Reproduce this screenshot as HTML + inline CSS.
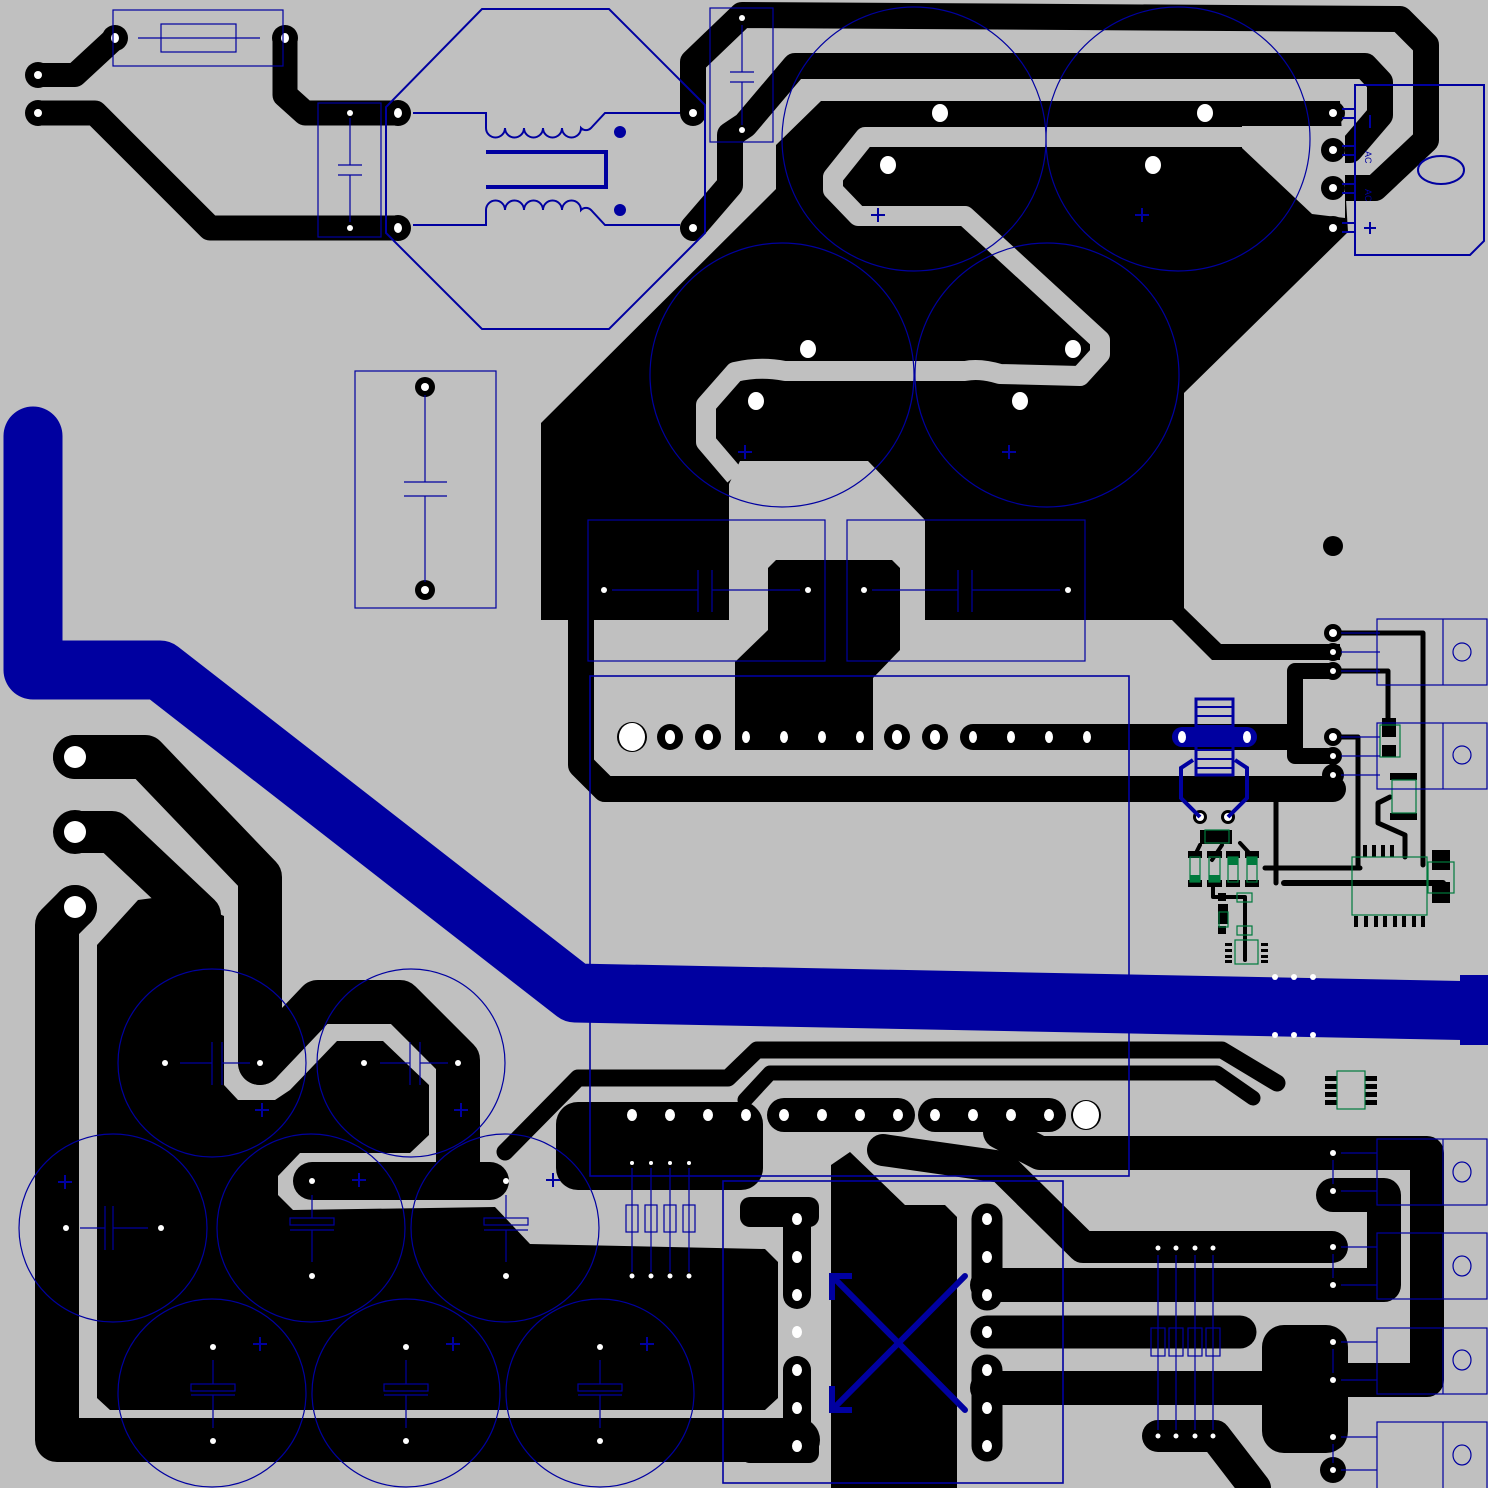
<!DOCTYPE html>
<html><head><meta charset="utf-8"><style>html,body{margin:0;padding:0;background:#c0c0c0}svg{display:block}</style></head>
<body>
<svg width="1488" height="1488" viewBox="0 0 1488 1488" xmlns="http://www.w3.org/2000/svg">
<rect width="1488" height="1488" fill="#c0c0c0"/>
<g fill="none" stroke="#000" stroke-linecap="round" stroke-linejoin="round">
<!-- top-left -->
<path d="M38,75 L75,75 L115,38" stroke-width="24"/>
<path d="M38,113 L95,113 L210,228 L398,228" stroke-width="25"/>
<path d="M285,38 L285,95 L305,113 L398,113" stroke-width="25"/>
<!-- top bands -->
<path d="M693,113 L693,62 L742,15 L1400,19 L1426,45 L1426,140 L1375,188 L1333,188" stroke-width="26"/>
<path d="M693,228 L730,185 L730,135 L745,125 L795,66 L1365,66 L1380,82 L1380,115 L1350,150 L1333,150" stroke-width="26"/>
</g>
<!-- main polygon -->
<polygon points="541,423 776,189 776,145 821,101 1340,101 1348,232 1184,393 1184,608 1221,644 1340,644 1340,660 1212,660 1172,620 541,620" fill="#000"/>
<g fill="none" stroke="#c0c0c0" stroke-linejoin="round">
<path d="M1345,137 L865,137 L833,177 L833,190 L858,216 L965,216 L1100,340 L1100,354 L1080,376 L1000,374 Q980,368 965,371 L785,371 Q760,366 735,372 L706,405 L706,442 L735,476" stroke-width="20"/>
</g>
<polygon points="1242,126 1345,126 1345,218 1312,214 1242,148" fill="#c0c0c0"/>
<polygon points="729,484 740,461 868,461 925,520 925,625 729,625" fill="#c0c0c0"/>
<!-- re-draw black traces inside -->
<g fill="none" stroke="#000" stroke-linecap="round" stroke-linejoin="round">
<path d="M581,610 L581,765 L605,789 L1333,789" stroke-width="26"/>
<path d="M973,737 L1290,737" stroke-width="26"/>
<path d="M1333,671 L1295,671 L1295,756 L1333,756" stroke-width="16"/>
<path d="M1333,633 L1423,633 L1423,865" stroke-width="5"/>
<path d="M1333,671 L1388,671 L1388,720" stroke-width="5"/>
<path d="M1333,737 L1358,737 L1358,867" stroke-width="5"/>
<path d="M1390,797 L1378,803 L1378,823 L1405,835 L1405,857" stroke-width="5"/>
<path d="M1265,868 L1360,868" stroke-width="5"/>
<path d="M1284,883 L1443,883" stroke-width="6"/>
<path d="M1276,802 L1276,883" stroke-width="5"/>
<path d="M1213,887 L1213,897 L1245,897 L1245,960" stroke-width="4"/>
<path d="M1222,845 L1212,860 M1240,843 L1252,856 M1200,845 L1195,855" stroke-width="4"/>
</g>
<polygon points="776,560 892,560 900,568 900,650 873,678 873,750 735,750 735,662 768,630 768,568" fill="#000"/>
<!-- pad row 737 pads -->
<g fill="#000"><circle cx="632" cy="737" r="15"/><circle cx="670" cy="737" r="13"/><circle cx="708" cy="737" r="13"/><circle cx="897" cy="737" r="13"/><circle cx="935" cy="737" r="13"/><circle cx="1333" cy="546" r="10"/></g>
<!-- blue wide trace -->
<path d="M33,436 L33,670 L160,670 L575,993 L1488,1011" fill="none" stroke="#0000a0" stroke-width="59" stroke-linejoin="round" stroke-linecap="round"/>
<rect x="1460" y="975" width="30" height="70" fill="#0000a0"/>
<!-- bottom-left -->
<polygon points="97,945 138,900 175,895 224,916 224,1085 238,1100 275,1100 290,1090 337,1041 383,1041 429,1085 429,1135 410,1153 300,1153 278,1176 278,1195 293,1210 495,1207 530,1244 765,1249 778,1262 778,1398 765,1410 110,1410 97,1398" fill="#000"/>
<g fill="none" stroke="#000" stroke-linecap="round" stroke-linejoin="round">
<path d="M75,757 L145,757 L260,877 L260,1063" stroke-width="44"/>
<path d="M75,832 L112,832 L200,915" stroke-width="42"/>
<path d="M75,907 L57,925 L57,1440 L798,1440" stroke-width="44"/>
<path d="M260,1063 L318,1002 L400,1002 L458,1060 L458,1165" stroke-width="44"/>
<path d="M312,1181 L490,1181" stroke-width="38"/>
<path d="M505,1152 L578,1078 L728,1078 L757,1050 L1222,1050 L1277,1083" stroke-width="17"/>
<path d="M745,1100 L770,1073 L1217,1073 L1253,1098" stroke-width="15"/>
<path d="M784,1115 L898,1115 M935,1115 L1049,1115" stroke-width="34"/>
<path d="M883,1150 L1002,1167 L1083,1247 L1332,1247" stroke-width="32"/>
<path d="M1000,1132 L1040,1153 L1427,1153 L1427,1380 L1333,1380" stroke-width="34"/>
<path d="M987,1285 L1384,1285 L1384,1195 L1333,1195" stroke-width="34"/>
<path d="M987,1332 L1240,1332" stroke-width="33"/>
<path d="M987,1388 L1280,1388" stroke-width="34"/>
<path d="M1158,1436 L1215,1436 L1255,1488" stroke-width="32"/>
<path d="M797,1219 L797,1295 M797,1370 L797,1446" stroke-width="28"/>
<path d="M987,1219 L987,1295 M987,1370 L987,1446" stroke-width="31"/>
</g>
<rect x="556" y="1102" width="207" height="88" rx="22" fill="#000"/>
<rect x="740" y="1197" width="79" height="30" rx="10" fill="#000"/>
<rect x="740" y="1432" width="79" height="31" rx="10" fill="#000"/>
<rect x="1262" y="1325" width="86" height="128" rx="22" fill="#000"/>
<polygon points="831,1165 850,1152 905,1205 945,1205 957,1217 957,1488 831,1488" fill="#000"/>
<g fill="#000"><circle cx="1333" cy="1342" r="13"/><circle cx="1333" cy="1437" r="13"/><circle cx="1333" cy="1470" r="13"/><circle cx="1333" cy="1191" r="13"/><circle cx="1333" cy="1153" r="13"/><circle cx="1333" cy="1247" r="13"/><circle cx="1333" cy="1285" r="13"/><circle cx="1086" cy="1115" r="15"/><circle cx="746" cy="1115" r="12"/></g>
<!-- top pads black rings -->
<g fill="#000">
<circle cx="115" cy="38" r="13"/><circle cx="285" cy="38" r="13"/><circle cx="38" cy="75" r="13"/><circle cx="38" cy="113" r="13"/><circle cx="398" cy="113" r="13"/><circle cx="398" cy="228" r="13"/><circle cx="693" cy="113" r="12"/><circle cx="693" cy="228" r="12"/><circle cx="1333" cy="113" r="12"/><circle cx="1333" cy="150" r="12"/><circle cx="1333" cy="188" r="12"/><circle cx="1333" cy="228" r="12"/>
<circle cx="425" cy="387" r="10"/><circle cx="425" cy="590" r="10"/>
<circle cx="75" cy="757" r="22"/><circle cx="75" cy="832" r="22"/><circle cx="75" cy="907" r="22"/>
<circle cx="1333" cy="633" r="9"/><circle cx="1333" cy="652" r="9"/><circle cx="1333" cy="671" r="9"/><circle cx="1333" cy="737" r="9"/><circle cx="1333" cy="756" r="9"/><circle cx="1333" cy="775" r="11"/>
<circle cx="1200" cy="817" r="7"/><circle cx="1228" cy="817" r="7"/>
</g>
<!-- small SMD parts -->
<g fill="#000">
<rect x="1382" y="718" width="14" height="19"/><rect x="1382" y="745" width="14" height="12"/>
<rect x="1390" y="773" width="27" height="7"/><rect x="1390" y="813" width="27" height="7"/>
<rect x="1432" y="850" width="18" height="20"/><rect x="1432" y="882" width="18" height="21"/>
<rect x="1200" y="830" width="32" height="14"/>
<rect x="1188" y="851" width="14" height="7"/><rect x="1207" y="851" width="15" height="7"/><rect x="1226" y="851" width="14" height="7"/><rect x="1245" y="851" width="14" height="7"/>
<rect x="1188" y="880" width="14" height="7"/><rect x="1207" y="880" width="15" height="7"/><rect x="1226" y="880" width="14" height="7"/><rect x="1245" y="880" width="14" height="7"/>
<rect x="1218" y="893" width="8" height="8"/><rect x="1218" y="926" width="8" height="8"/><rect x="1218" y="904" width="10" height="20"/>
<rect x="1225" y="943" width="7" height="3"/><rect x="1225" y="949" width="7" height="3"/><rect x="1225" y="955" width="7" height="3"/><rect x="1225" y="960" width="7" height="3"/>
<rect x="1261" y="943" width="7" height="3"/><rect x="1261" y="949" width="7" height="3"/><rect x="1261" y="955" width="7" height="3"/><rect x="1261" y="960" width="7" height="3"/>
<rect x="1325" y="1076" width="12" height="5"/><rect x="1325" y="1084" width="12" height="5"/><rect x="1325" y="1092" width="12" height="5"/><rect x="1325" y="1100" width="12" height="5"/>
<rect x="1365" y="1076" width="12" height="5"/><rect x="1365" y="1084" width="12" height="5"/><rect x="1365" y="1092" width="12" height="5"/><rect x="1365" y="1100" width="12" height="5"/>
</g>
<g fill="#000">
<rect x="1363" y="845" width="4" height="12"/><rect x="1372" y="845" width="4" height="12"/><rect x="1381" y="845" width="4" height="12"/><rect x="1390" y="845" width="4" height="12"/>
<rect x="1354" y="916" width="4" height="11"/><rect x="1364" y="916" width="4" height="11"/><rect x="1374" y="916" width="4" height="11"/><rect x="1383" y="916" width="4" height="11"/><rect x="1393" y="916" width="4" height="11"/><rect x="1402" y="916" width="4" height="11"/><rect x="1412" y="916" width="4" height="11"/><rect x="1421" y="916" width="4" height="11"/>
</g>
<g fill="#007a3d"><rect x="1190" y="875" width="10" height="7"/><rect x="1209" y="875" width="11" height="7"/><rect x="1228" y="857" width="10" height="8"/><rect x="1247" y="857" width="10" height="8"/></g>
<g fill="none" stroke="#007a3d" stroke-width="1.2">
<rect x="1205" y="830" width="24" height="13"/><rect x="1190" y="857" width="10" height="25"/><rect x="1209" y="857" width="11" height="25"/><rect x="1228" y="857" width="10" height="25"/><rect x="1247" y="857" width="10" height="25"/>
<rect x="1237" y="893" width="15" height="9"/><rect x="1219" y="912" width="9" height="15"/><rect x="1237" y="926" width="15" height="9"/>
<rect x="1235" y="940" width="23" height="24"/><rect x="1352" y="857" width="75" height="58"/><rect x="1428" y="862" width="26" height="31"/>
<rect x="1392" y="780" width="24" height="33"/><rect x="1380" y="725" width="20" height="32"/><rect x="1337" y="1071" width="28" height="38"/>
</g>
<!-- white drill holes -->
<g fill="#fff">
<ellipse cx="115" cy="38" rx="4" ry="5"/><ellipse cx="285" cy="38" rx="4" ry="5"/><circle cx="38" cy="75" r="4"/><circle cx="38" cy="113" r="4"/><circle cx="350" cy="113" r="3"/><circle cx="350" cy="228" r="3"/><ellipse cx="398" cy="113" rx="4" ry="5"/><ellipse cx="398" cy="228" rx="4" ry="5"/>
<circle cx="693" cy="113" r="4"/><circle cx="693" cy="228" r="4"/><circle cx="742" cy="18" r="3"/><circle cx="742" cy="130" r="3"/>
<ellipse cx="940" cy="113" rx="8" ry="9"/><ellipse cx="1205" cy="113" rx="8" ry="9"/><ellipse cx="888" cy="165" rx="8" ry="9"/><ellipse cx="1153" cy="165" rx="8" ry="9"/>
<ellipse cx="808" cy="349" rx="8" ry="9"/><ellipse cx="1073" cy="349" rx="8" ry="9"/><ellipse cx="756" cy="401" rx="8" ry="9"/><ellipse cx="1020" cy="401" rx="8" ry="9"/>
<circle cx="1333" cy="113" r="4"/><circle cx="1333" cy="150" r="4"/><circle cx="1333" cy="188" r="4"/><circle cx="1333" cy="228" r="4"/>
<circle cx="425" cy="387" r="4"/><circle cx="425" cy="590" r="4"/>
<circle cx="604" cy="590" r="3"/><circle cx="808" cy="590" r="3"/><circle cx="864" cy="590" r="3"/><circle cx="1068" cy="590" r="3"/>
<ellipse cx="632" cy="737" rx="13" ry="14"/><ellipse cx="670" cy="737" rx="5" ry="7"/><ellipse cx="708" cy="737" rx="5" ry="7"/>
<ellipse cx="746" cy="737" rx="4" ry="6"/><ellipse cx="784" cy="737" rx="4" ry="6"/><ellipse cx="822" cy="737" rx="4" ry="6"/><ellipse cx="860" cy="737" rx="4" ry="6"/>
<ellipse cx="897" cy="737" rx="5" ry="7"/><ellipse cx="935" cy="737" rx="5" ry="7"/>
<ellipse cx="973" cy="737" rx="4" ry="6"/><ellipse cx="1011" cy="737" rx="4" ry="6"/><ellipse cx="1049" cy="737" rx="4" ry="6"/><ellipse cx="1087" cy="737" rx="4" ry="6"/>
<circle cx="1333" cy="633" r="4"/><circle cx="1333" cy="652" r="3"/><circle cx="1333" cy="671" r="3"/><circle cx="1333" cy="737" r="4"/><circle cx="1333" cy="756" r="3"/><circle cx="1333" cy="775" r="3"/>
<circle cx="75" cy="757" r="11"/><circle cx="75" cy="832" r="11"/><circle cx="75" cy="907" r="11"/>
<circle cx="165" cy="1063" r="3"/><circle cx="260" cy="1063" r="3"/><circle cx="364" cy="1063" r="3"/><circle cx="458" cy="1063" r="3"/>
<circle cx="66" cy="1228" r="3"/><circle cx="161" cy="1228" r="3"/><circle cx="312" cy="1181" r="3"/><circle cx="312" cy="1276" r="3"/><circle cx="506" cy="1181" r="3"/><circle cx="506" cy="1276" r="3"/>
<circle cx="213" cy="1347" r="3"/><circle cx="213" cy="1441" r="3"/><circle cx="406" cy="1347" r="3"/><circle cx="406" cy="1441" r="3"/><circle cx="600" cy="1347" r="3"/><circle cx="600" cy="1441" r="3"/>
<ellipse cx="632" cy="1115" rx="5" ry="6"/><ellipse cx="670" cy="1115" rx="5" ry="6"/><ellipse cx="708" cy="1115" rx="5" ry="6"/><ellipse cx="746" cy="1115" rx="5" ry="6"/>
<ellipse cx="784" cy="1115" rx="5" ry="6"/><ellipse cx="822" cy="1115" rx="5" ry="6"/><ellipse cx="860" cy="1115" rx="5" ry="6"/><ellipse cx="898" cy="1115" rx="5" ry="6"/>
<ellipse cx="935" cy="1115" rx="5" ry="6"/><ellipse cx="973" cy="1115" rx="5" ry="6"/><ellipse cx="1011" cy="1115" rx="5" ry="6"/><ellipse cx="1049" cy="1115" rx="5" ry="6"/>
<ellipse cx="1086" cy="1115" rx="13" ry="14"/>
<circle cx="632" cy="1163" r="2"/><circle cx="651" cy="1163" r="2"/><circle cx="670" cy="1163" r="2"/><circle cx="689" cy="1163" r="2"/>
<circle cx="632" cy="1276" r="2.5"/><circle cx="651" cy="1276" r="2.5"/><circle cx="670" cy="1276" r="2.5"/><circle cx="689" cy="1276" r="2.5"/>
<ellipse cx="797" cy="1219" rx="5" ry="6"/><ellipse cx="797" cy="1257" rx="5" ry="6"/><ellipse cx="797" cy="1295" rx="5" ry="6"/><ellipse cx="797" cy="1332" rx="5" ry="6"/><ellipse cx="797" cy="1370" rx="5" ry="6"/><ellipse cx="797" cy="1408" rx="5" ry="6"/><ellipse cx="797" cy="1446" rx="5" ry="6"/>
<ellipse cx="987" cy="1219" rx="5" ry="6"/><ellipse cx="987" cy="1257" rx="5" ry="6"/><ellipse cx="987" cy="1295" rx="5" ry="6"/><ellipse cx="987" cy="1332" rx="5" ry="6"/><ellipse cx="987" cy="1370" rx="5" ry="6"/><ellipse cx="987" cy="1408" rx="5" ry="6"/><ellipse cx="987" cy="1446" rx="5" ry="6"/>
<circle cx="1158" cy="1248" r="2.5"/><circle cx="1176" cy="1248" r="2.5"/><circle cx="1195" cy="1248" r="2.5"/><circle cx="1213" cy="1248" r="2.5"/>
<circle cx="1158" cy="1436" r="2.5"/><circle cx="1176" cy="1436" r="2.5"/><circle cx="1195" cy="1436" r="2.5"/><circle cx="1213" cy="1436" r="2.5"/>
<circle cx="1333" cy="1153" r="3"/><circle cx="1333" cy="1191" r="3"/><circle cx="1333" cy="1247" r="3"/><circle cx="1333" cy="1285" r="3"/><circle cx="1333" cy="1342" r="3"/><circle cx="1333" cy="1380" r="3"/><circle cx="1333" cy="1437" r="3"/><circle cx="1333" cy="1470" r="3"/>
<circle cx="1200" cy="817" r="4"/><circle cx="1228" cy="817" r="4"/>
<circle cx="1275" cy="977" r="3"/><circle cx="1294" cy="977" r="3"/><circle cx="1313" cy="977" r="3"/><circle cx="1275" cy="1035" r="3"/><circle cx="1294" cy="1035" r="3"/><circle cx="1313" cy="1035" r="3"/>
</g>
<!-- blue outlines -->
<g fill="none" stroke="#0000a0" stroke-width="1.2">
<rect x="113" y="10" width="170" height="56"/><rect x="161" y="24" width="75" height="28"/><path d="M138,38 L260,38"/>
<rect x="318" y="103" width="63" height="134"/><path d="M350,118 L350,165 M338,165 L362,165 M338,175 L362,175 M350,175 L350,222"/>
<rect x="710" y="8" width="63" height="134"/><path d="M742,25 L742,72 M730,72 L754,72 M730,82 L754,82 M742,82 L742,125"/>
<circle cx="914" cy="139" r="132"/><circle cx="1178" cy="139" r="132"/><circle cx="782" cy="375" r="132"/><circle cx="1047" cy="375" r="132"/>
<rect x="355" y="371" width="141" height="237"/><path d="M425,395 L425,482 M404,482 L447,482 M404,496 L447,496 M425,496 L425,582"/>
<rect x="588" y="520" width="237" height="141"/><rect x="847" y="520" width="238" height="141"/>
<path d="M612,590 L698,590 M698,570 L698,612 M712,570 L712,612 M712,590 L800,590 M872,590 L958,590 M958,570 L958,612 M972,570 L972,612 M972,590 L1060,590"/>
<rect x="590" y="676" width="539" height="500" stroke-width="1.6"/>
<rect x="723" y="1181" width="340" height="302" stroke-width="1.6"/>
<circle cx="212" cy="1063" r="94"/><circle cx="411" cy="1063" r="94"/><circle cx="113" cy="1228" r="94"/><circle cx="311" cy="1228" r="94"/><circle cx="505" cy="1228" r="94"/><circle cx="212" cy="1393" r="94"/><circle cx="406" cy="1393" r="94"/><circle cx="600" cy="1393" r="94"/>
<path d="M180,1063 L212,1063 M212,1042 L212,1085 M222,1042 L222,1085 M222,1063 L250,1063"/>
<path d="M380,1063 L410,1063 M410,1042 L410,1085 M420,1042 L420,1085 M420,1063 L448,1063"/>
<path d="M80,1228 L105,1228 M105,1206 L105,1250 M113,1206 L113,1250 M113,1228 L148,1228"/>
<rect x="290" y="1218" width="44" height="7"/><path d="M312,1195 L312,1218 M290,1230 L334,1230 M312,1230 L312,1262"/>
<rect x="484" y="1218" width="44" height="7"/><path d="M506,1195 L506,1218 M484,1230 L528,1230 M506,1230 L506,1262"/>
<rect x="191" y="1384" width="44" height="7"/><path d="M213,1360 L213,1384 M191,1395 L235,1395 M213,1395 L213,1428"/>
<rect x="384" y="1384" width="44" height="7"/><path d="M406,1360 L406,1384 M384,1395 L428,1395 M406,1395 L406,1428"/>
<rect x="578" y="1384" width="44" height="7"/><path d="M600,1360 L600,1384 M578,1395 L622,1395 M600,1395 L600,1428"/>
<path d="M632,1168 L632,1272 M651,1168 L651,1272 M670,1168 L670,1272 M689,1168 L689,1272"/>
<rect x="626" y="1205" width="12" height="27"/><rect x="645" y="1205" width="12" height="27"/><rect x="664" y="1205" width="12" height="27"/><rect x="683" y="1205" width="12" height="27"/>
<path d="M1158,1255 L1158,1430 M1176,1255 L1176,1430 M1195,1255 L1195,1430 M1213,1255 L1213,1430"/>
<rect x="1151" y="1328" width="14" height="28"/><rect x="1169" y="1328" width="14" height="28"/><rect x="1188" y="1328" width="14" height="28"/><rect x="1206" y="1328" width="14" height="28"/>
<rect x="1377" y="1139" width="110" height="66"/><path d="M1443,1139 L1443,1205"/><ellipse cx="1462" cy="1172" rx="9" ry="10"/>
<rect x="1377" y="1233" width="110" height="66"/><path d="M1443,1233 L1443,1299"/><ellipse cx="1462" cy="1266" rx="9" ry="10"/>
<rect x="1377" y="1328" width="110" height="66"/><path d="M1443,1328 L1443,1394"/><ellipse cx="1462" cy="1360" rx="9" ry="10"/>
<rect x="1377" y="1422" width="110" height="70"/><path d="M1443,1422 L1443,1492"/><ellipse cx="1462" cy="1455" rx="9" ry="10"/>
<path d="M1341,1153 L1377,1153 M1341,1191 L1377,1191 M1341,1247 L1377,1247 M1341,1285 L1377,1285 M1341,1342 L1377,1342 M1341,1380 L1377,1380 M1341,1437 L1377,1437 M1341,1470 L1377,1470"/>
<path d="M1333,1160 L1333,1184 M1333,1254 L1333,1278 M1333,1349 L1333,1373 M1333,1444 L1333,1463"/>
<rect x="1377" y="619" width="110" height="66"/><path d="M1443,619 L1443,685"/><circle cx="1462" cy="652" r="9"/>
<rect x="1377" y="723" width="110" height="66"/><path d="M1443,723 L1443,789"/><circle cx="1462" cy="755" r="9"/>
<path d="M1341,633 L1380,633 M1341,652 L1380,652 M1341,671 L1380,671 M1341,737 L1380,737 M1341,756 L1380,756 M1341,775 L1380,775"/>
</g>
<g fill="none" stroke="#0000a0" stroke-width="2">
<polygon points="482,9 609,9 705,105 705,233 609,329 482,329 386,233 386,107"/>
<path d="M413,113 L486,113 L486,128 a9.5,9.5 0 0 0 19,0 a9.5,9.5 0 0 0 19,0 a9.5,9.5 0 0 0 19,0 a9.5,9.5 0 0 0 19,0 a9.5,9.5 0 0 0 19,0 a7,7 0 0 0 10,0 L605,113 L680,113"/>
<path d="M413,225 L486,225 L486,210 a9.5,9.5 0 0 1 19,0 a9.5,9.5 0 0 1 19,0 a9.5,9.5 0 0 1 19,0 a9.5,9.5 0 0 1 19,0 a9.5,9.5 0 0 1 19,0 a7,7 0 0 1 10,0 L605,225 L680,225"/>
<path d="M486,152 L606,152 L606,187 L486,187" stroke-width="4"/>
<path d="M1355,85 L1484,85 L1484,241 L1470,255 L1355,255 Z"/>
<ellipse cx="1441" cy="170" rx="23" ry="14"/>
<path d="M1342,109 L1355,109 L1355,118 L1342,118 M1342,146 L1355,146 L1355,155 L1342,155 M1342,184 L1355,184 L1355,193 L1342,193 M1342,223 L1355,223 L1355,232 L1342,232"/>
<path d="M1370,115 L1370,128 M1364,228 L1376,228 M1370,222 L1370,234"/>
<path d="M871,215 L885,215 M878,208 L878,222 M1135,215 L1149,215 M1142,208 L1142,222 M738,452 L752,452 M745,445 L745,459 M1002,452 L1016,452 M1009,445 L1009,459"/>
<path d="M255,1110 L269,1110 M262,1103 L262,1117 M454,1110 L468,1110 M461,1103 L461,1117 M58,1182 L72,1182 M65,1175 L65,1189 M352,1180 L366,1180 M359,1173 L359,1187 M546,1180 L560,1180 M553,1173 L553,1187 M253,1344 L267,1344 M260,1337 L260,1351 M446,1344 L460,1344 M453,1337 L453,1351 M640,1344 L654,1344 M647,1337 L647,1351"/>
</g>
<!-- blue pad & ladder -->
<g stroke="#0000a0" fill="none">
<path d="M1182,737 L1247,737" stroke-width="20" stroke-linecap="round"/>
<rect x="1196" y="699" width="37" height="76" stroke-width="3"/>
<path d="M1196,707 L1233,707 M1196,716 L1233,716 M1196,726 L1233,726 M1196,750 L1233,750 M1196,759 L1233,759 M1196,768 L1233,768" stroke-width="2"/>
<path d="M1193,760 L1181,768 L1181,798 L1200,817 M1235,760 L1247,768 L1247,798 L1228,817" stroke-width="4"/>
<path d="M965,1276 L832,1410 M832,1276 L965,1410" stroke-width="6" stroke-linecap="round"/>
<path d="M832,1300 L832,1276 L852,1276 M832,1386 L832,1410 L852,1410" stroke-width="6"/>
</g>
<g fill="#0000a0"><circle cx="620" cy="132" r="6"/><circle cx="620" cy="210" r="6"/></g>
<g fill="#fff"><ellipse cx="1182" cy="737" rx="4" ry="6"/><ellipse cx="1247" cy="737" rx="4" ry="6"/></g>
<g font-family="Liberation Sans, sans-serif" font-size="9" fill="#0000a0">
<text x="1366" y="160" transform="rotate(90 1370 155)">AC</text>
<text x="1366" y="198" transform="rotate(90 1370 193)">AC</text>
</g>
</svg>
</body></html>
